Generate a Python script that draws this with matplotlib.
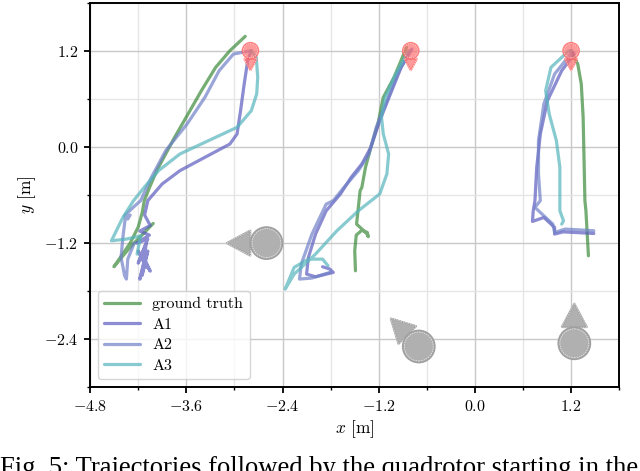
import matplotlib
matplotlib.use('agg')
import matplotlib.pyplot as plt
import matplotlib.patches as mpatches
import numpy as np

plt.rcParams['font.family'] = 'cmr10'
plt.rcParams['mathtext.fontset'] = 'cm'
plt.rcParams['axes.formatter.use_mathtext'] = True

# trajectories (x, y) in metres
gt1 = [(-2.865, 1.379), (-3.056, 1.2), (-3.234, 0.992), (-3.412, 0.701), (-3.59, 0.39),
       (-3.746, 0.119), (-3.857, -0.088), (-3.969, -0.296), (-4.058, -0.504), (-4.124, -0.67),
       (-4.15, -0.82), (-4.2, -1.0), (-4.3, -1.2), (-4.503, -1.495), (-4.3, -1.25), (-4.013, -0.955)]
a1_1 = [(-2.79, 1.2), (-2.834, 1.075), (-2.878, 0.784), (-2.923, 0.452), (-2.967, 0.161),
        (-3.056, 0.036), (-3.368, -0.13), (-3.679, -0.296), (-3.902, -0.463), (-4.08, -0.67),
        (-4.12, -0.85), (-4.05, -0.98), (-4.18, -1.05), (-4.06, -1.1), (-4.22, -1.2), (-4.08, -1.15),
        (-4.2, -1.45), (-4.1, -1.2), (-4.15, -1.6), (-4.08, -1.3), (-4.18, -1.65), (-4.12, -1.4),
        (-4.05, -1.55), (-4.2, -1.3), (-4.1, -1.5)]
a2_1 = [(-2.79, 1.2), (-3.012, 1.158), (-3.19, 0.951), (-3.368, 0.618), (-3.59, 0.286),
        (-3.857, -0.047), (-4.035, -0.379), (-4.169, -0.67), (-4.258, -0.75), (-4.33, -0.82),
        (-4.37, -0.86), (-4.33, -0.9), (-4.3, -0.85), (-4.36, -0.88), (-4.391, -1.129),
        (-4.414, -1.379), (-4.369, -1.607), (-4.347, -1.649), (-4.33, -1.4), (-4.25, -1.2)]
a3_1 = [(-2.79, 1.2), (-2.727, 1.117), (-2.709, 0.867), (-2.722, 0.66), (-2.789, 0.452),
        (-2.967, 0.244), (-3.323, 0.078), (-3.679, -0.088), (-3.946, -0.296), (-4.124, -0.504),
        (-4.258, -0.67), (-4.391, -0.88), (-4.534, -1.171), (-4.347, -1.15), (-4.169, -1.109),
        (-4.214, -1.337)]

gt2 = [(-1.49, -1.545), (-1.499, -1.296), (-1.48, -1.1), (-1.41, -1.04), (-1.343, -1.067),
       (-1.33, -1.12), (-1.35, -1.08), (-1.476, -0.963), (-1.432, -0.547), (-1.41, -0.504),
       (-1.365, -0.255), (-1.298, -0.005), (-1.21, 0.286), (-1.143, 0.618), (-1.009, 0.867),
       (-0.853, 1.242)]
a1_2 = [(-0.787, 1.22), (-0.92, 0.992), (-1.054, 0.66), (-1.187, 0.327), (-1.298, -0.005),
        (-1.41, -0.213), (-1.543, -0.379), (-1.677, -0.587), (-1.855, -0.797), (-1.988, -1.088),
        (-2.077, -1.379), (-2.1, -1.587), (-1.988, -1.62), (-1.855, -1.587), (-1.766, -1.566),
        (-1.81, -1.524), (-1.9, -1.495)]
a2_2 = [(-0.809, 1.2), (-0.965, 0.909), (-1.098, 0.577), (-1.231, 0.244), (-1.321, -0.088),
        (-1.454, -0.296), (-1.632, -0.504), (-1.766, -0.67), (-1.855, -0.714), (-2.033, -1.088),
        (-2.166, -1.462), (-2.188, -1.649), (-2.033, -1.636), (-1.81, -1.566)]
a3_2 = [(-0.831, 1.2), (-1.009, 0.867), (-1.12, 0.618), (-1.165, 0.369), (-1.143, 0.161),
        (-1.076, -0.088), (-1.098, -0.338), (-1.187, -0.587), (-1.454, -0.797), (-1.721, -1.046),
        (-1.988, -1.337), (-2.255, -1.587), (-2.367, -1.774), (-2.255, -1.503), (-2.077, -1.4),
        (-1.9, -1.4), (-1.832, -1.483)]

gt3 = [(1.2, 1.2), (1.239, 1.117), (1.283, 1.034), (1.327, 0.784), (1.35, 0.369), (1.359, -0.047),
       (1.372, -0.67), (1.385, -0.8), (1.394, -0.963), (1.416, -1.358)]
a1_3 = [(1.2, 1.2), (1.239, 1.158), (1.083, 0.951), (0.905, 0.577), (0.816, 0.161), (0.771, -0.255),
        (0.749, -0.67), (0.727, -0.8), (0.718, -0.93), (0.86, -0.88), (0.994, -1.005),
        (0.994, -1.088), (1.1, -1.06), (1.483, -1.08)]
a2_3 = [(1.2, 1.2), (1.194, 1.158), (0.994, 0.909), (0.86, 0.535), (0.793, 0.078), (0.793, -0.338),
        (0.816, -0.67), (0.749, -0.755), (0.971, -0.963), (0.994, -1.067), (1.127, -1.025),
        (1.483, -1.046)]
a3_3 = [(1.2, 1.2), (1.172, 1.2), (0.949, 0.992), (0.882, 0.701), (0.927, 0.41), (1.016, 0.078),
        (1.06, -0.255), (1.06, -0.67), (1.06, -0.797), (1.105, -0.922), (1.083, -0.963)]

labels = ['ground truth', 'A1', 'A2', 'A3']
colors = ['#3a8a3a', '#5b5bbf', '#7080c8', '#55b4bc']
groups = [[gt1, a1_1, a2_1, a3_1], [gt2, a1_2, a2_2, a3_2], [gt3, a1_3, a2_3, a3_3]]

# start positions (red) and other agents (grey): x, y, heading in degrees
starts = [(-2.8, 1.2, -90), (-0.8, 1.2, -90), (1.2, 1.2, -90)]
agents = [(-2.6, -1.2, 180), (-0.7, -2.49, 135), (1.24, -2.45, 90)]


def draw_agent(ax, x, y, heading, r, fc, ec, alpha):
    th = np.deg2rad(heading)
    d = np.array([np.cos(th), np.sin(th)])
    n = np.array([-d[1], d[0]])
    c = np.array([x, y])
    tri = [c + d * 2.5 * r, c + d * r + n * 0.8 * r, c + d * r - n * 0.8 * r]
    ax.add_patch(mpatches.Polygon(tri, closed=True, fc=fc, ec=ec, lw=1.2, alpha=alpha, zorder=3))
    ax.add_patch(mpatches.Polygon(tri, closed=True, fill=False, ec='white', lw=0.5,
                                  ls=(0, (2, 1.5)), alpha=0.8, zorder=3))
    ax.add_patch(mpatches.Circle((x, y), r, fc=fc, ec=ec, lw=1.2, alpha=alpha, zorder=3))
    ax.add_patch(mpatches.Circle((x, y), r * 0.9, fill=False, ec='white', lw=0.5,
                                 ls=(0, (2, 1.5)), alpha=0.8, zorder=3))


fig = plt.figure(figsize=(6.4, 4.71), dpi=100)
ax = fig.add_axes([0.1406, 0.1775, 0.8271, 0.817])

for g in groups:
    for i, tr in enumerate(g):
        xs = [p[0] for p in tr]
        ys = [p[1] for p in tr]
        ax.plot(xs, ys, color=colors[i], lw=2.3, alpha=0.7, solid_joinstyle='round',
                solid_capstyle='round', label=labels[i] if g is groups[0] else None)

for x, y, h in agents:
    draw_agent(ax, x, y, h, 0.2, '#b0b0b0', '#a0a0a0', 1.0)
for x, y, h in starts:
    draw_agent(ax, x, y, h, 0.1, '#ff7070', '#ff5a5a', 0.7)

ax.set_xlim(-4.8, 1.8)
ax.set_ylim(-3.0, 1.8)
ax.set_aspect('equal')
ax.set_xticks(np.arange(-4.8, 1.3, 1.2))
ax.set_yticks(np.arange(-2.4, 1.3, 1.2))
ax.set_xticks(np.arange(-4.2, 1.9, 0.6), minor=True)
ax.set_yticks(np.arange(-3.0, 1.9, 0.6), minor=True)
fmt = matplotlib.ticker.FuncFormatter(lambda v, p: '$%.1f$' % (0.0 if abs(v) < 1e-9 else v))
ax.xaxis.set_major_formatter(fmt)
ax.yaxis.set_major_formatter(fmt)
ax.grid(which='major', color='#c8c8c8', lw=1.0)
ax.grid(which='minor', color='#e6e6e6', lw=1.0)
ax.set_axisbelow(True)
ax.tick_params(which='major', length=4.5, width=1.3, labelsize=11.5, pad=4)
ax.tick_params(which='minor', length=2.5, width=1.0)
for s in ax.spines.values():
    s.set_linewidth(1.4)
ax.set_xlabel('$x$ [m]', fontsize=12.5, labelpad=3)
ax.set_ylabel('$y$ [m]', fontsize=12.5, labelpad=4)
ax.legend(loc='lower left', fontsize=11.5, handlelength=2.2, labelspacing=0.4)

fig.text(0.0, -0.009, 'Fig. 5: Trajectories followed by the quadrotor starting in the',
         family='Liberation Serif', fontsize=19.2, ha='left', va='baseline')

fig.savefig('out.png', dpi=100)
